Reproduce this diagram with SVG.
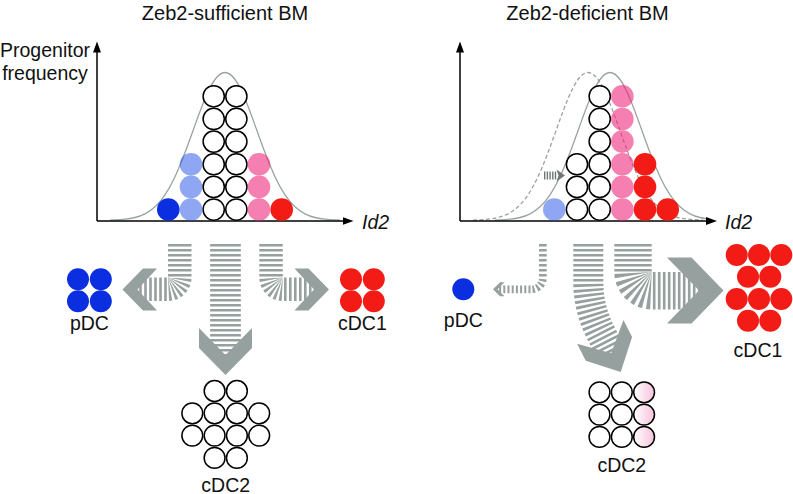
<svg xmlns="http://www.w3.org/2000/svg" xmlns:xlink="http://www.w3.org/1999/xlink" width="793" height="494" viewBox="0 0 793 494">
<style>
.t{font-family:"Liberation Sans",Arial,Helvetica,sans-serif;font-size:19.5px;fill:#111}
.title{font-size:20px}
.it{font-style:italic}
.ax{stroke:#000;stroke-width:1.5;fill:none}
.bell{fill:none;stroke:#9aa3a2;stroke-width:1.3}
.dash{stroke-dasharray:4 2.5}
.w{fill:#fff;stroke:#000;stroke-width:1.5}
.db{fill:#0a2ee0}
.lb{fill:#1f4fe6;fill-opacity:.5}
.pk{fill:#ee2a7b;fill-opacity:.6}
.rd{fill:#f21b16}
.bar{fill:none;stroke:#96a09e;stroke-dasharray:2.6 2.4}
.chev{fill:#96a09e}
.mini{fill:#6e7776}
</style>
<defs>
<marker id="ah" markerWidth="12" markerHeight="8" refX="7" refY="4" orient="auto" markerUnits="userSpaceOnUse"><path d="M0,0 L11,4 L0,8 z" fill="#000"/></marker>
<path id="bell" d="M-115,220.1 L-110,219.9 C-106.67,219.76 -103.33,219.56 -100,219.2 C-96.67,218.84 -93.33,218.33 -90,217.5 C-86.67,216.67 -83.33,215.49 -80,213.8 C-76.67,212.11 -73.33,209.88 -70,206.8 C-66.67,203.72 -63.33,199.78 -60,194.8 C-56.67,189.82 -53.33,183.8 -50,176.7 C-46.67,169.6 -43.33,161.41 -40,152.6 C-36.67,143.79 -33.33,134.4 -30,125.1 C-26.67,115.8 -23.33,106.62 -20,98.7 C-16.67,90.78 -13.33,84.08 -10,79.5 C-6.67,74.92 -3.33,72.5 0,72.5 C3.33,72.5 6.67,74.92 10,79.5 C13.33,84.08 16.67,90.78 20,98.7 C23.33,106.62 26.67,115.8 30,125.1 C33.33,134.4 36.67,143.79 40,152.6 C43.33,161.41 46.67,169.6 50,176.7 C53.33,183.8 56.67,189.82 60,194.8 C63.33,199.78 66.67,203.72 70,206.8 C73.33,209.88 76.67,212.11 80,213.8 C83.33,215.49 86.67,216.67 90,217.5 C93.33,218.33 96.67,218.84 100,219.2 C103.33,219.56 106.67,219.76 110,219.9 L115,220.1"/>
<linearGradient id="pg" x1="0" y1="0" x2="1" y2="0"><stop offset="0" stop-color="#ffffff"/><stop offset="1" stop-color="#f6c2dc"/></linearGradient>
<clipPath id="clipR"><rect x="460" y="30" width="246" height="200"/></clipPath>
</defs>

<g id="titles">
<text class="t title" x="225" y="19.5" text-anchor="middle">Zeb2-sufficient BM</text>
<text class="t title" x="587.5" y="19.5" text-anchor="middle">Zeb2-deficient BM</text>
</g>

<g id="chart-left">
<text class="t" x="45" y="56.5" text-anchor="middle">Progenitor</text>
<text class="t" x="45" y="79.5" text-anchor="middle">frequency</text>
<use href="#bell" class="bell" x="225"/>
<path class="ax" d="M97,221 V45.5" marker-end="url(#ah)"/>
<path class="ax" d="M97,221 H349.5" marker-end="url(#ah)"/>
<text class="t it" x="362" y="229">Id2</text>
<g id="progenitors-left">
<circle class="w" cx="213.7" cy="96.3" r="10.6"/><circle class="w" cx="236.35" cy="96.3" r="10.6"/>
<circle class="w" cx="213.7" cy="118.95" r="10.6"/><circle class="w" cx="236.35" cy="118.95" r="10.6"/>
<circle class="w" cx="213.7" cy="141.6" r="10.6"/><circle class="w" cx="236.35" cy="141.6" r="10.6"/>
<circle class="w" cx="213.7" cy="164.25" r="10.6"/><circle class="w" cx="236.35" cy="164.25" r="10.6"/>
<circle class="w" cx="213.7" cy="186.9" r="10.6"/><circle class="w" cx="236.35" cy="186.9" r="10.6"/>
<circle class="w" cx="213.7" cy="209.55" r="10.6"/><circle class="w" cx="236.35" cy="209.55" r="10.6"/>
<circle class="lb" cx="191" cy="164.25" r="11.3"/><circle class="lb" cx="191" cy="186.9" r="11.3"/><circle class="lb" cx="191" cy="209.55" r="11.3"/>
<circle class="db" cx="168.3" cy="209.55" r="11.3"/>
<circle class="pk" cx="259" cy="164.25" r="11.3"/><circle class="pk" cx="259" cy="186.9" r="11.3"/><circle class="pk" cx="259" cy="209.55" r="11.3"/>
<circle class="rd" cx="281.7" cy="209.55" r="11.3"/>
</g>
</g>

<g id="chart-right">
<g clip-path="url(#clipR)">
<use href="#bell" class="bell dash" x="588"/>
<use href="#bell" class="bell" x="610"/>
</g>
<path class="ax" d="M460,221 V45.5" marker-end="url(#ah)"/>
<path class="ax" d="M460,221 H713" marker-end="url(#ah)"/>
<text class="t it" x="725" y="229">Id2</text>
<g id="progenitors-right">
<circle class="w" cx="599.7" cy="96.3" r="10.6"/>
<circle class="w" cx="599.7" cy="118.95" r="10.6"/>
<circle class="w" cx="599.7" cy="141.6" r="10.6"/>
<circle class="w" cx="577" cy="164.25" r="10.6"/><circle class="w" cx="599.7" cy="164.25" r="10.6"/>
<circle class="w" cx="577" cy="186.9" r="10.6"/><circle class="w" cx="599.7" cy="186.9" r="10.6"/>
<circle class="w" cx="577" cy="209.55" r="10.6"/><circle class="w" cx="599.7" cy="209.55" r="10.6"/>
<circle class="lb" cx="554.3" cy="209.55" r="11.3"/>
<circle class="pk" cx="622.35" cy="96.3" r="11.3"/><circle class="pk" cx="622.35" cy="118.95" r="11.3"/><circle class="pk" cx="622.35" cy="141.6" r="11.3"/>
<circle class="pk" cx="622.35" cy="164.25" r="11.3"/><circle class="pk" cx="622.35" cy="186.9" r="11.3"/><circle class="pk" cx="622.35" cy="209.55" r="11.3"/>
<circle class="rd" cx="645" cy="164.25" r="11.3"/><circle class="rd" cx="645" cy="186.9" r="11.3"/><circle class="rd" cx="645" cy="209.55" r="11.3"/>
<circle class="rd" cx="667.7" cy="209.55" r="11.3"/>
</g>
<g id="shift-arrow">
<path d="M544,175.5 H557.5" fill="none" stroke="#6e7776" stroke-width="8" stroke-dasharray="1.4 1.3"/>
<polygon class="mini" points="556.5,169.5 565,175.5 556.5,181.5 558.5,175.5"/>
</g>
</g>

<g id="connectors">
<g id="arrow-left-pDC">
<path class="bar" stroke-width="23.5" d="M179.75,244 V277.5"/>
<path class="bar" stroke-width="23.5" d="M179.75,277.5 A11.75,11.75 0 0 1 168,289.25" style="stroke-dasharray:1.6 1.48;stroke-dashoffset:-0.74"/>
<path class="bar" stroke-width="23.5" d="M168,289.25 H136" style="stroke-dashoffset:-1.2"/>
<polygon class="chev" points="122.5,289.5 143,268.5 157,268.5 137.5,289.5 157,310.5 143,310.5"/>
</g>
<g id="arrow-left-cDC1">
<path class="bar" stroke-width="23.5" d="M271.05,244 V277.5"/>
<path class="bar" stroke-width="23.5" d="M271.05,277.5 A11.75,11.75 0 0 0 282.8,289.25" style="stroke-dasharray:1.6 1.48;stroke-dashoffset:-0.74"/>
<path class="bar" stroke-width="23.5" d="M282.8,289.25 H316" style="stroke-dashoffset:-1.2"/>
<polygon class="chev" points="329,289.5 308.5,268.5 294.5,268.5 314,289.5 294.5,310.5 308.5,310.5"/>
</g>
<g id="arrow-left-cDC2">
<path class="bar" stroke-width="30.7" d="M225.5,244 V357"/>
<polygon class="chev" points="199,328 199,348 225.5,375 252,348 252,328 225.5,355"/>
</g>
<g id="arrow-right-pDC">
<path class="bar" stroke-width="7.7" d="M542.85,244 V278"/>
<path class="bar" stroke-width="7.7" d="M542.85,278 A11.35,11.35 0 0 1 531.5,289.35" style="stroke-dasharray:2.2 2.26;stroke-dashoffset:-1.13"/>
<path class="bar" stroke-width="7.7" d="M531.5,289.35 H497" style="stroke-dasharray:2 2.2;stroke-dashoffset:-1"/>
<polygon class="chev" points="493,289.3 500,282.3 504.5,282.3 497.5,289.3 504.5,296.3 500,296.3"/>
</g>
<g id="arrow-right-cDC2">
<path class="bar" stroke-width="30" d="M588.3,244 V282 A110,110 0 0 0 600.3,331.9 l12,23.5"/>
<polygon class="chev" transform="translate(600.3,331.9) rotate(-27)" points="-26,0 -26,19 0,45 26,19 26,0 0,24"/>
</g>
<g id="arrow-right-cDC1">
<path class="bar" stroke-width="37.4" d="M633,244 V272"/>
<path class="bar" stroke-width="37.4" d="M633,272 A18.7,18.7 0 0 0 651.7,290.7" style="stroke-dasharray:2.2 1.996;stroke-dashoffset:-1"/>
<path class="bar" stroke-width="37.4" d="M651.7,290.7 H700" style="stroke-dashoffset:-1.2"/>
<polygon class="chev" points="723.5,290.5 691.5,257.5 667,257.5 699,290.5 667,323.5 691.5,323.5"/>
</g>
</g>

<g id="node-pDC-left">
<circle class="db" cx="78" cy="279.2" r="11"/><circle class="db" cx="100.8" cy="279.2" r="11"/>
<circle class="db" cx="78" cy="301.2" r="11"/><circle class="db" cx="100.8" cy="301.2" r="11"/>
<text class="t" x="89.4" y="329.5" text-anchor="middle">pDC</text>
</g>
<g id="node-cDC1-left">
<circle class="rd" cx="351" cy="279.2" r="11"/><circle class="rd" cx="373.8" cy="279.2" r="11"/>
<circle class="rd" cx="351" cy="301.2" r="11"/><circle class="rd" cx="373.8" cy="301.2" r="11"/>
<text class="t" x="362.4" y="329.5" text-anchor="middle">cDC1</text>
</g>
<g id="node-cDC2-left">
<circle class="w" cx="214.6" cy="391" r="10.4"/><circle class="w" cx="236.9" cy="391" r="10.4"/>
<circle class="w" cx="192.3" cy="413.3" r="10.4"/><circle class="w" cx="214.6" cy="413.3" r="10.4"/><circle class="w" cx="236.9" cy="413.3" r="10.4"/><circle class="w" cx="259.2" cy="413.3" r="10.4"/>
<circle class="w" cx="192.3" cy="435.6" r="10.4"/><circle class="w" cx="214.6" cy="435.6" r="10.4"/><circle class="w" cx="236.9" cy="435.6" r="10.4"/><circle class="w" cx="259.2" cy="435.6" r="10.4"/>
<circle class="w" cx="214.6" cy="457.9" r="10.4"/><circle class="w" cx="236.9" cy="457.9" r="10.4"/>
<text class="t" x="225.7" y="491.5" text-anchor="middle">cDC2</text>
</g>

<g id="node-pDC-right">
<circle class="db" cx="463.3" cy="289.3" r="11"/>
<text class="t" x="463.3" y="327" text-anchor="middle">pDC</text>
</g>
<g id="node-cDC1-right">
<circle class="rd" cx="736.7" cy="255" r="11"/><circle class="rd" cx="759" cy="255" r="11"/><circle class="rd" cx="781.3" cy="255" r="11"/>
<circle class="rd" cx="748" cy="276.8" r="11"/><circle class="rd" cx="770.3" cy="276.8" r="11"/>
<circle class="rd" cx="736.7" cy="299" r="11"/><circle class="rd" cx="759" cy="299" r="11"/><circle class="rd" cx="781.3" cy="299" r="11"/>
<circle class="rd" cx="748" cy="320.8" r="11"/><circle class="rd" cx="770.3" cy="320.8" r="11"/>
<text class="t" x="758" y="357" text-anchor="middle">cDC1</text>
</g>
<g id="node-cDC2-right">
<circle class="w" cx="599.5" cy="392.3" r="10.4"/><circle class="w" cx="621.8" cy="392.3" r="10.4"/><circle class="w" cx="644.1" cy="392.3" r="10.4" fill="url(#pg)" style="fill:url(#pg)"/>
<circle class="w" cx="599.5" cy="414.6" r="10.4"/><circle class="w" cx="621.8" cy="414.6" r="10.4"/><circle class="w" cx="644.1" cy="414.6" r="10.4" style="fill:url(#pg)"/>
<circle class="w" cx="599.5" cy="436.9" r="10.4"/><circle class="w" cx="621.8" cy="436.9" r="10.4"/><circle class="w" cx="644.1" cy="436.9" r="10.4" style="fill:url(#pg)"/>
<text class="t" x="621.8" y="472" text-anchor="middle">cDC2</text>
</g>
</svg>
